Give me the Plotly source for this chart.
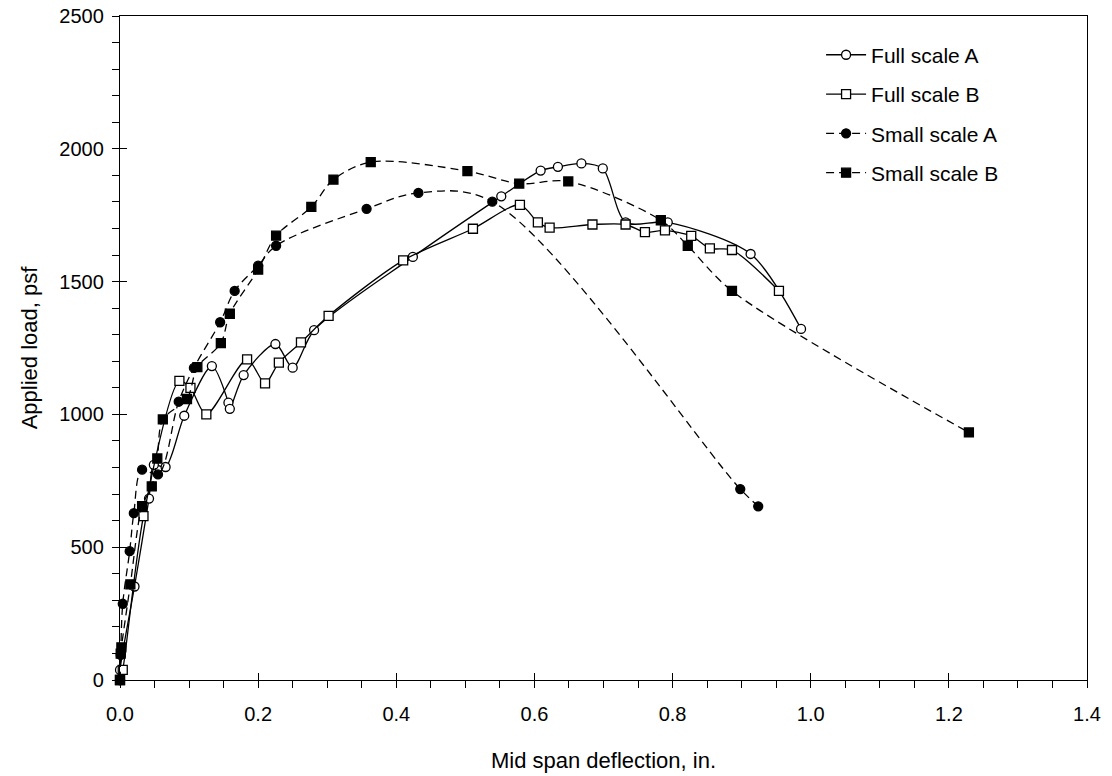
import plotly.graph_objects as go

# Full scale A
fsa_x = [0.0, 0.0, 0.021, 0.042, 0.049, 0.066, 0.093, 0.133, 0.157, 0.159, 0.179, 0.225, 0.250,
         0.281, 0.424, 0.552, 0.609, 0.634, 0.668, 0.699, 0.732, 0.793, 0.913, 0.986]
fsa_y = [0, 38, 352, 683, 810, 802, 995, 1182, 1044, 1021, 1148, 1265, 1176,
         1317, 1593, 1821, 1918, 1932, 1945, 1926, 1723, 1723, 1604, 1322]

# Full scale B
fsb_x = [0.0, 0.004, 0.034, 0.086, 0.102, 0.125, 0.184, 0.210, 0.230, 0.262, 0.302, 0.410,
         0.511, 0.579, 0.605, 0.622, 0.684, 0.732, 0.760, 0.789, 0.827, 0.854, 0.886, 0.954]
fsb_y = [0, 38, 617, 1126, 1100, 1000, 1207, 1117, 1195, 1271, 1371, 1580,
         1699, 1789, 1723, 1703, 1715, 1715, 1686, 1693, 1672, 1625, 1619, 1465]

# Small scale A
ssa_x = [0.0, 0.001, 0.004, 0.014, 0.020, 0.032, 0.055, 0.085, 0.107, 0.145, 0.166, 0.200,
         0.226, 0.357, 0.432, 0.539, 0.898, 0.924]
ssa_y = [0, 95, 287, 485, 628, 792, 774, 1048, 1175, 1347, 1465, 1560,
         1635, 1774, 1834, 1801, 719, 654]

# Small scale B
ssb_x = [0.0, 0.001, 0.002, 0.015, 0.032, 0.046, 0.054, 0.062, 0.097, 0.112, 0.146, 0.159,
         0.200, 0.226, 0.277, 0.309, 0.363, 0.503, 0.578, 0.649, 0.783, 0.822, 0.886, 1.229]
ssb_y = [0, 99, 123, 360, 655, 729, 834, 981, 1058, 1178, 1268, 1379,
         1545, 1673, 1781, 1884, 1950, 1916, 1869, 1877, 1731, 1635, 1465, 932]

series_names = ["Full scale A", "Full scale B", "Small scale A", "Small scale B"]

x_ticks = [0.0, 0.2, 0.4, 0.6, 0.8, 1.0, 1.2, 1.4]
y_ticks = [0, 500, 1000, 1500, 2000, 2500]

FONT = "Liberation Sans, Arial, sans-serif"
DASH = "8px,5px"

fig = go.Figure()

specs = [
    (fsa_x, fsa_y, series_names[0], "solid", "circle", True, 0.8),
    (fsb_x, fsb_y, series_names[1], "solid", "square", True, 0.8),
    (ssa_x, ssa_y, series_names[2], DASH, "circle", False, 1.0),
    (ssb_x, ssb_y, series_names[3], DASH, "square", False, 0.9),
]
for i, (xs, ys, name, dash, sym, open_, sm) in enumerate(specs):
    fig.add_trace(go.Scatter(
        x=xs, y=ys, name=name, mode="lines+markers",
        legendgroup=f"g{i}",
        line=dict(color="black", width=1.3, dash=dash, shape="spline", smoothing=sm),
        marker=dict(symbol=sym, size=9,
                    color="white" if open_ else "black",
                    line=dict(color="black", width=1.3)),
        cliponaxis=False,
    ))

# empty trace to host the inner-tick overlay axes
fig.add_trace(go.Scatter(x=[], y=[], xaxis="x2", yaxis="y2", showlegend=False, hoverinfo="skip"))

axis_common = dict(showgrid=False, zeroline=False, linecolor="black", linewidth=1.3,
                   mirror=True, ticks="outside", ticklen=7, tickwidth=1.3, tickcolor="black",
                   automargin=False,
                   tickfont=dict(family=FONT, size=20, color="black"))

fig.update_layout(
    width=1112, height=776,
    margin=dict(l=120, r=25, t=16, b=96),
    paper_bgcolor="white", plot_bgcolor="white",
    font=dict(family=FONT, color="black"),
    showlegend=True,
    legend=dict(x=0.725, y=0.972, xanchor="left", yanchor="top",
                font=dict(family=FONT, size=21, color="black"),
                bgcolor="rgba(0,0,0,0)", borderwidth=0,
                traceorder="grouped", tracegroupgap=9, itemwidth=40),
    xaxis=dict(range=[0, 1.4], tickvals=x_ticks, tickformat=".1f",
               minor=dict(dtick=0.05, ticks="outside", ticklen=7, tickwidth=1.1, tickcolor="black"),
               title=dict(text="Mid span deflection, in.", font=dict(family=FONT, size=22, color="black"),
                          standoff=28),
               ticklabelstandoff=9,
               **axis_common),
    yaxis=dict(range=[0, 2500], tickvals=y_ticks,
               minor=dict(dtick=100, ticks="outside", ticklen=7, tickwidth=1.1, tickcolor="black"),
               title=dict(text="Applied load, psf", font=dict(family=FONT, size=22, color="black"),
                          standoff=15),
               ticklabelstandoff=4,
               **axis_common),
    xaxis2=dict(overlaying="x", matches="x", anchor="y2", range=[0, 1.4], tickvals=x_ticks,
                ticks="inside", ticklen=7, tickwidth=1.3, tickcolor="black", automargin=False,
                showticklabels=False, showline=False, showgrid=False, zeroline=False, side="bottom"),
    yaxis2=dict(overlaying="y", matches="y", anchor="x2", range=[0, 2500], tickvals=y_ticks,
                ticks="inside", ticklen=7, tickwidth=1.3, tickcolor="black", automargin=False,
                showticklabels=False, showline=False, showgrid=False, zeroline=False, side="left"),
)

fig.write_html("out.html")
